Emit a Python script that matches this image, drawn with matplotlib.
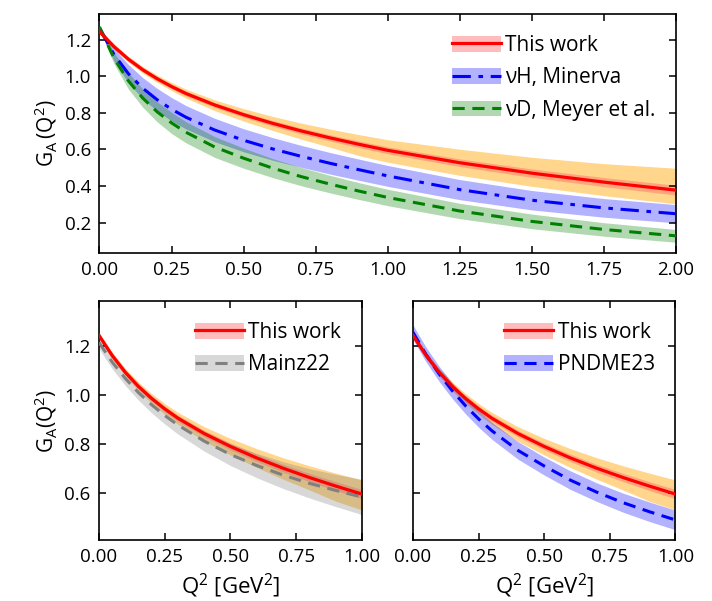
import numpy as np
import matplotlib
matplotlib.use("Agg")
import matplotlib.pyplot as plt
from matplotlib.patches import Patch
from matplotlib.lines import Line2D

plt.rcParams['font.family'] = ['Open Sans', 'DejaVu Sans']
plt.rcParams['mathtext.default'] = 'regular'

# Q^2 grid (GeV^2) the curves were read on
q2 = [0.0, 0.05, 0.1, 0.15, 0.2, 0.25, 0.3, 0.4, 0.5, 0.6, 0.7, 0.8, 0.9, 1.0,
      1.25, 1.5, 1.75, 2.0]

# This work: central, stat band half-width, wider (orange) band edges
this_work = [1.245, 1.163, 1.094, 1.036, 0.987, 0.944, 0.906, 0.843, 0.79, 0.743,
             0.701, 0.663, 0.628, 0.595, 0.527, 0.47, 0.421, 0.377]
this_err = [0.012, 0.012, 0.012, 0.012, 0.012, 0.012, 0.013, 0.013, 0.014, 0.015,
            0.016, 0.017, 0.018, 0.019, 0.021, 0.023, 0.025, 0.027]
this_sys_hi = [1.257, 1.177, 1.11, 1.054, 1.007, 0.966, 0.93, 0.871, 0.823, 0.781,
               0.744, 0.711, 0.681, 0.653, 0.601, 0.557, 0.522, 0.497]
this_sys_lo = [1.233, 1.149, 1.078, 1.018, 0.967, 0.922, 0.881, 0.812, 0.755, 0.704,
               0.656, 0.612, 0.566, 0.53, 0.458, 0.398, 0.347, 0.302]

# nu H, Minerva
minerva = [1.265, 1.12, 1.015, 0.935, 0.872, 0.82, 0.776, 0.706, 0.65, 0.603,
           0.562, 0.524, 0.489, 0.455, 0.38, 0.322, 0.28, 0.248]
minerva_err = [0.01, 0.035, 0.05, 0.058, 0.062, 0.064, 0.064, 0.064, 0.063, 0.062,
               0.06, 0.059, 0.058, 0.057, 0.055, 0.053, 0.051, 0.05]

# nu D, Meyer et al.
meyer = [1.27, 1.10, 0.976, 0.881, 0.806, 0.745, 0.694, 0.613, 0.552, 0.498,
         0.451, 0.41, 0.372, 0.337, 0.263, 0.206, 0.162, 0.127]
meyer_err = [0.01, 0.03, 0.045, 0.05, 0.055, 0.058, 0.058, 0.057, 0.055, 0.052,
             0.05, 0.048, 0.046, 0.045, 0.042, 0.04, 0.037, 0.035]

# Mainz22 and PNDME23 (only up to Q^2 = 1)
q2_low = [0.0, 0.05, 0.1, 0.15, 0.2, 0.25, 0.3, 0.4, 0.5, 0.6, 0.7, 0.8, 0.9, 1.0]
mainz = [1.216, 1.136, 1.069, 1.011, 0.961, 0.917, 0.878, 0.812, 0.757, 0.712,
         0.673, 0.639, 0.61, 0.583]
mainz_err = [0.025, 0.027, 0.029, 0.031, 0.033, 0.035, 0.037, 0.041, 0.045, 0.05,
             0.055, 0.06, 0.066, 0.072]
pndme = [1.258, 1.166, 1.087, 1.018, 0.957, 0.903, 0.855, 0.774, 0.71, 0.652,
         0.603, 0.56, 0.523, 0.489]
pndme_err = [0.03, 0.03, 0.031, 0.032, 0.033, 0.034, 0.035, 0.036, 0.037, 0.038,
             0.038, 0.039, 0.04, 0.04]

q2 = np.array(q2)
q2_low = np.array(q2_low)
this_work = np.array(this_work)
this_err = np.array(this_err)

RED_BAND = '#ff6b6b'
DASH = (0, (4, 2.5))
DASHDOT = (0, (6, 2.5, 1.5, 2.5))


def style_axes(ax):
    ax.tick_params(direction='in', top=True, right=True, length=5, width=1.1,
                   labelsize=13.5, pad=6)
    for s in ax.spines.values():
        s.set_linewidth(1.2)


def draw_this_work(ax):
    ax.fill_between(q2, this_sys_lo, this_sys_hi, color='orange', alpha=0.45, lw=0)
    ax.fill_between(q2, this_work - this_err, this_work + this_err,
                    color=RED_BAND, alpha=0.45, lw=0)


def this_handle():
    return (Patch(facecolor=RED_BAND, alpha=0.45, lw=0),
            Line2D([], [], color='red', lw=2.3))


def add_legend(ax, handles, labels):
    ax.legend(handles, labels, loc='upper right', frameon=False, fontsize=15,
              handlelength=2.35, handleheight=0.8, handletextpad=0.2,
              labelspacing=0.55, borderaxespad=0.6)


fig = plt.figure(figsize=(7.12, 6.01), dpi=100)
ax1 = fig.add_axes([0.1397, 0.579, 0.8097, 0.3977])
ax2 = fig.add_axes([0.139, 0.1015, 0.3694, 0.3977])
ax3 = fig.add_axes([0.580, 0.1015, 0.3687, 0.3977])

# top panel
draw_this_work(ax1)
m = np.array(minerva)
me = np.array(minerva_err)
ax1.fill_between(q2, m - me, m + me, color='blue', alpha=0.3, lw=0)
d = np.array(meyer)
de = np.array(meyer_err)
ax1.fill_between(q2, d - de, d + de, color='green', alpha=0.3, lw=0)
ax1.plot(q2, this_work, color='red', lw=2.3, zorder=5)
ax1.plot(q2, minerva, color='blue', lw=2.2, ls=DASHDOT, zorder=4)
ax1.plot(q2, meyer, color='green', lw=2.2, ls=DASH, zorder=4)
ax1.set_xlim(0, 2)
ax1.set_ylim(0.033, 1.341)
ax1.set_xticks(np.arange(0, 2.01, 0.25))
ax1.set_yticks([0.2, 0.4, 0.6, 0.8, 1.0, 1.2])
ax1.xaxis.set_major_formatter('{x:.2f}')
ax1.yaxis.set_major_formatter('{x:.1f}')
ax1.set_ylabel('$G_A\\,(Q^2)$', fontsize=15)
style_axes(ax1)
h1 = [this_handle(),
      (Patch(facecolor='blue', alpha=0.3, lw=0),
       Line2D([], [], color='blue', lw=2.2, ls=DASHDOT)),
      (Patch(facecolor='green', alpha=0.3, lw=0),
       Line2D([], [], color='green', lw=2.2, ls=DASH))]
add_legend(ax1, h1, ['This work', 'νH, Minerva', 'νD, Meyer et al.'])

# bottom left: Mainz22
draw_this_work(ax2)
mz = np.array(mainz)
mze = np.array(mainz_err)
ax2.fill_between(q2_low, mz - mze, mz + mze, color='gray', alpha=0.3, lw=0)
ax2.plot(q2_low, mainz, color='gray', lw=2.2, ls=DASH, zorder=4)
ax2.plot(q2, this_work, color='red', lw=2.3, zorder=5)
ax2.set_ylabel('$G_A(Q^2)$', fontsize=15)
h2 = [this_handle(),
      (Patch(facecolor='gray', alpha=0.3, lw=0),
       Line2D([], [], color='gray', lw=2.2, ls=DASH))]
add_legend(ax2, h2, ['This work', 'Mainz22'])

# bottom right: PNDME23
draw_this_work(ax3)
p = np.array(pndme)
pe = np.array(pndme_err)
ax3.fill_between(q2_low, p - pe, p + pe, color='blue', alpha=0.3, lw=0)
ax3.plot(q2_low, pndme, color='blue', lw=2.2, ls=DASH, zorder=4)
ax3.plot(q2, this_work, color='red', lw=2.3, zorder=5)
h3 = [this_handle(),
      (Patch(facecolor='blue', alpha=0.3, lw=0),
       Line2D([], [], color='blue', lw=2.2, ls=DASH))]
add_legend(ax3, h3, ['This work', 'PNDME23'])

for ax in (ax2, ax3):
    ax.set_xlim(0, 1)
    ax.set_ylim(0.407, 1.386)
    ax.set_xticks([0, 0.25, 0.5, 0.75, 1.0])
    ax.set_yticks([0.6, 0.8, 1.0, 1.2])
    ax.xaxis.set_major_formatter('{x:.2f}')
    ax.yaxis.set_major_formatter('{x:.1f}')
    ax.set_xlabel('$Q^2$ [GeV$^2$]', fontsize=16)
    style_axes(ax)
ax3.tick_params(labelleft=False)

fig.savefig('out.png', dpi=100)
